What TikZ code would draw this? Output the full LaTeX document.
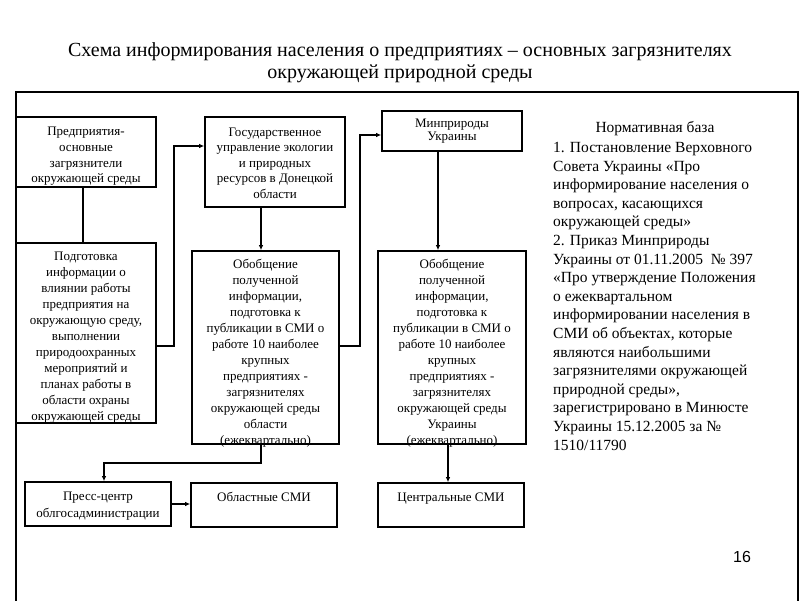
\documentclass[tikz,border=0pt]{standalone}
\usepackage{fontspec}
\setmainfont{Liberation Serif}
\newfontfamily\numfont{Liberation Sans}
\usetikzlibrary{arrows.meta}
\begin{document}
\begin{tikzpicture}[x=1pt,y=-1pt,
  box/.style={draw, line width=1.6pt, inner sep=0pt},
  boxtext/.style={inner sep=0pt, align=center, font=\fontsize{13}{16}\selectfont},
  conn/.style={line width=1.6pt},
  arr/.style={conn, -{Latex[length=5pt,width=4.5pt]}}]
\useasboundingbox (0,0) rectangle (800,600);
% frame
\draw[line width=1.6pt] (16,610) -- (16,92) -- (798,92) -- (798,610);
% title
\node[align=center, font=\fontsize{20}{22}\selectfont] (title) at (400,63)
  {Схема информирования населения о предприятиях – основных загрязнителях\\окружающей природной среды};
% boxes
\node[box, minimum width=140, minimum height=70] (A) at (86,152) {};
\node[boxtext, font=\fontsize{13}{15.7}\selectfont] (At) at ([yshift=-4.5pt]A.center)
  {Предприятия-\\основные\\загрязнители\\окружающей среды};
\node[box, minimum width=140, minimum height=90] (B) at (275,162) {};
\node[boxtext, font=\fontsize{13}{15.5}\selectfont] (Bt) at ([yshift=-1pt]B.center)
  {Государственное\\управление экологии\\и природных\\ресурсов в Донецкой\\области};
\node[box, minimum width=140, minimum height=40] (C) at (452,131) {};
\node[boxtext, font=\fontsize{13}{12.5}\selectfont] (Ct) at (C.center)
  {Минприроды\\Украины};
\node[box, minimum width=140, minimum height=180] (D) at (86,333) {};
\node[boxtext] (Dt) at ([yshift=-5pt]D.center)
  {Подготовка\\информации о\\влиянии работы\\предприятия на\\окружающую среду,\\выполнении\\природоохранных\\мероприятий и\\планах работы в\\области охраны\\окружающей среды};
\node[box, minimum width=147, minimum height=193] (E) at (265.5,347.5) {};
\node[boxtext] (Et) at ([yshift=-6pt]E.center)
  {Обобщение\\полученной\\информации,\\подготовка к\\публикации в СМИ о\\работе 10 наиболее\\крупных\\предприятиях -\\загрязнителях\\окружающей среды\\области\\(ежеквартально)};
\node[box, minimum width=148, minimum height=193] (F) at (452,347.5) {};
\node[boxtext] (Ft) at ([yshift=-6pt]F.center)
  {Обобщение\\полученной\\информации,\\подготовка к\\публикации в СМИ о\\работе 10 наиболее\\крупных\\предприятиях -\\загрязнителях\\окружающей среды\\Украины\\(ежеквартально)};
\node[box, minimum width=146, minimum height=44] (P) at (98,504) {};
\node[boxtext, font=\fontsize{13}{17}\selectfont] (Pt) at ([yshift=-2pt]P.center)
  {Пресс-центр\\облгосадминистрации};
\node[box, minimum width=146, minimum height=44] (O) at (264,505) {};
\node[boxtext, anchor=base] (Ot) at ([yshift=3.5pt]O.center) {Областные СМИ};
\node[box, minimum width=146, minimum height=44] (Z) at (451,505) {};
\node[boxtext, anchor=base] (Zt) at ([yshift=3.5pt]Z.center) {Центральные СМИ};
% normative text
\node[font=\fontsize{15.5}{18.6}\selectfont] (normhead) at (655,129) {Нормативная база};
\node[anchor=north west, inner sep=0pt, align=left, font=\fontsize{15.5}{18.6}\selectfont] (normbody) at (553,142)
  {1. Постановление Верховного\\Совета Украины «Про\\информирование населения о\\вопросах, касающихся\\окружающей среды»\\2. Приказ Минприроды\\Украины от 01.11.2005 \ № 397\\«Про утверждение Положения\\о ежеквартальном\\информировании населения в\\СМИ об объектах, которые\\являются наибольшими\\загрязнителями окружающей\\природной среды»,\\зарегистрировано в Минюсте\\Украины 15.12.2005 за №\\1510/11790};
\node[font=\numfont\fontsize{16}{19}\selectfont] (pagenum) at (742,557) {16};
% connectors
\draw[conn] ([xshift=-3pt]A.south) -- ([xshift=-3pt]A.south |- D.north);
\draw[arr] ([yshift=-13pt]D.east) -- ++(17,0) |- ([yshift=16pt]B.west);
\draw[arr] ([xshift=-14pt]B.south) -- ([xshift=-14pt]B.south |- E.north);
\draw[arr] ([yshift=1.5pt]E.east) -- ++(20,0) |- ([yshift=-4pt]C.west);
\draw[arr] ([xshift=-14pt]C.south) -- ([xshift=-14pt]C.south |- F.north);
\draw[arr] ([xshift=-4.5pt]E.south) -- ++(0,18) -| ([xshift=6pt]P.north);
\draw[arr] (P.east) -- (O.west |- P.east);
\draw[arr] ([xshift=-4pt]F.south) -- ([xshift=-4pt]F.south |- Z.north);
\end{tikzpicture}
\end{document}
